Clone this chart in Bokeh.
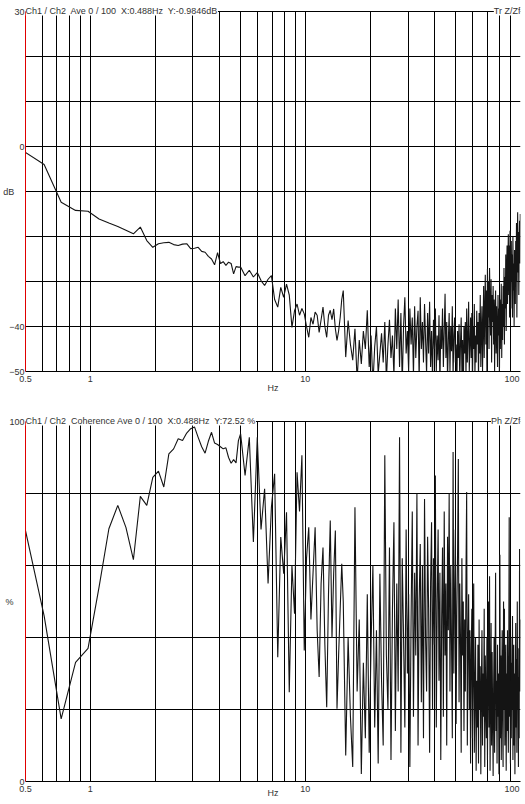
from bokeh.plotting import figure
from bokeh.models import Range1d, FixedTicker, Label
from bokeh.layouts import column
from bokeh.embed import file_html
from bokeh.resources import INLINE

FONT = "Liberation Sans"
TXT = "#333333"

# ---- frequency grid (Hz) ----
DF = 500 / 4096
freq_a = [DF * k for k in range(4, 41)]          # 0.488 .. 4.88 Hz
freq_b = [5.0 + 0.244 * k for k in range(41)]    # 5.0 .. 14.76 Hz
freq_c = [15.0 + 0.4 * k for k in range(213)]    # 15.0 .. 99.8 Hz
freq = freq_a + freq_b + freq_c

# ---- axis ticks / grid ----
x_ticks = [0.5, 1, 10, 100]
x_tick_labels = ["0.5", "1", "10", "100"]
x_grid = [0.6, 0.7, 0.8, 0.9, 1, 2, 3, 4, 5, 6, 7, 8, 9,
          10, 20, 30, 40, 50, 60, 70, 80, 90, 100]
db_limits = (-50, 30)
db_ticks = [-50, -40, 0, 30]
db_grid = [-50, -40, -30, -20, -10, 0, 10, 20, 30]
coh_limits = (0, 100)
coh_ticks = [0, 100]
coh_grid = [0, 20, 40, 60, 80, 100]

# ---- Transfer function (dB) ----
tr_db_a = [-1.0, -4.0, -12.4, -14.2, -14.4, -16.1, -17.0, -17.8, -18.6, -19.4,
           -17.9, -20.9, -22.4, -21.6, -21.4, -21.3, -21.8, -22.0, -21.7, -21.6,
           -22.7, -22.6, -22.4, -23.3, -23.5, -24.4, -25.0, -26.3, -23.6, -26.0,
           -25.6, -26.4, -25.7, -26.0, -28.3, -26.7, -26.8]
tr_db_b = [-26.8, -28.7, -27.5, -29.0, -28.0, -29.8, -30.9, -29.5, -28.7, -34.0,
           -35.7, -31.3, -33.5, -30.6, -33.0, -40.2, -36.5, -35.0, -37.5, -36.0,
           -37.2, -40.0, -42.4, -38.0, -39.5, -36.8, -37.5, -41.3, -38.5, -35.7,
           -40.0, -42.4, -37.5, -36.4, -38.5, -36.1, -40.5, -43.1, -41.0, -38.0,
           -34.0]
tr_db_c = [-32.0, -46.8, -38.7, -44.0, -47.5, -40.5, -52.0, -43.0, -48.3, -41.0,
           -45.0, -36.4, -49.0, -42.0, -53.0, -44.5, -40.0, -50.5, -46.0, -41.5,
           -48.0, -39.0, -52.0, -44.0, -38.5, -47.0, -42.0, -51.0, -36.0, -45.0,
           -34.0, -49.0, -37.0, -53.0, -40.0, -33.5, -46.0, -41.0, -50.0, -36.0,
           -44.0, -38.0, -51.0, -35.5, -47.0, -40.0, -36.5, -52.0, -33.5, -45.0,
           -39.0, -48.0, -35.0, -43.0, -50.5, -37.0, -46.0, -34.5, -49.0, -41.0,
           -52.0, -38.5, -45.0, -36.0, -50.0, -42.0, -47.5, -37.5, -53.0, -40.0,
           -45.0, -36.0, -49.0, -41.0, -32.7, -47.0, -39.0, -52.0, -43.0, -37.0,
           -50.0, -40.0, -45.5, -35.5, -51.0, -42.0, -38.0, -48.0, -44.0, -53.0,
           -41.0, -47.0, -39.5, -52.0, -44.0, -38.0, -50.0, -43.0, -55.0, -40.0,
           -46.0, -39.0, -51.0, -36.0, -48.0, -42.0, -34.5, -50.0, -44.0, -38.0,
           -47.0, -37.0, -53.0, -40.0, -45.0, -35.0, -51.0, -42.0, -48.0, -36.5,
           -44.0, -39.0, -52.0, -37.0, -46.0, -33.0, -49.0, -41.0, -35.5, -50.0,
           -40.0, -31.0, -47.0, -36.0, -28.5, -44.0, -32.0, -50.0, -27.2, -38.0,
           -30.0, -45.0, -27.0, -35.0, -42.0, -29.5, -48.0, -33.0, -39.0, -31.0,
           -44.0, -34.0, -50.0, -37.0, -32.0, -46.0, -35.5, -41.0, -49.0, -33.0,
           -42.0, -36.0, -52.0, -34.0, -45.0, -38.0, -30.5, -47.0, -35.0, -43.0,
           -31.0, -40.0, -27.0, -44.0, -29.0, -36.0, -24.0, -41.0, -30.0, -22.0,
           -35.0, -25.0, -19.5, -33.0, -22.0, -38.0, -18.7, -28.0, -36.0, -21.0,
           -30.0, -24.0, -38.0, -20.0, -32.0, -26.0, -40.0, -23.0, -29.0, -35.0,
           -21.0, -30.0, -17.0, -38.0, -24.0, -14.6, -28.0, -19.0, -33.0, -22.0,
           -16.5, -26.0, -15.0]
tr_db = tr_db_a + tr_db_b + tr_db_c

# ---- Coherence (%) ----
coh_a = [72.5, 46.0, 17.4, 33.1, 37.0, 54.0, 70.2, 76.7, 70.6, 61.6,
         79.2, 76.7, 84.5, 86.2, 81.8, 91.0, 92.4, 95.2, 94.7, 96.8,
         98.0, 98.5, 95.6, 93.0, 91.2, 94.5, 97.0, 94.0, 93.6, 93.0,
         92.4, 92.7, 90.0, 88.4, 89.4, 88.5, 94.7]
coh_b = [96.6, 85.0, 95.6, 66.5, 95.6, 70.0, 81.3, 55.0, 76.2, 85.5,
         34.5, 67.9, 57.7, 74.8, 24.8, 60.0, 46.6, 85.9, 75.0, 90.6,
         36.4, 62.0, 70.6, 45.0, 58.0, 70.6, 42.0, 29.0, 55.0, 65.0,
         38.0, 20.6, 52.0, 72.5, 40.0, 58.0, 69.7, 20.2, 35.0, 48.0,
         60.5]
coh_c = [50.0, 7.2, 40.0, 18.0, 4.0, 76.2, 25.0, 45.0, 2.1, 33.0,
         12.0, 52.0, 8.0, 38.0, 60.0, 15.0, 42.0, 5.0, 57.7, 28.0,
         10.0, 90.6, 35.0, 20.0, 65.0, 6.0, 48.0, 72.0, 14.0, 55.0,
         25.0, 95.6, 8.0, 62.0, 40.0, 15.0, 70.0, 30.0, 52.0, 4.0,
         45.0, 75.0, 18.0, 58.0, 35.0, 80.0, 10.0, 50.0, 66.0, 22.0,
         60.0, 12.0, 78.5, 40.0, 25.0, 68.0, 48.0, 8.0, 55.0, 72.0,
         20.0, 62.0, 38.0, 85.0, 15.0, 50.0, 70.0, 28.0, 58.0, 6.0,
         45.0, 65.0, 18.0, 75.0, 35.0, 55.0, 10.0, 68.0, 42.0, 80.0,
         25.0, 60.0, 38.0, 12.0, 91.5, 30.0, 52.0, 70.0, 16.0, 48.0,
         64.0, 89.6, 22.0, 55.0, 40.0, 8.0, 62.0, 35.0, 50.0, 14.0,
         45.0, 25.0, 58.0, 80.4, 10.0, 38.0, 52.0, 20.0, 42.0, 5.0,
         35.0, 48.0, 12.0, 30.0, 55.0, 8.0, 25.0, 40.0, 3.0, 28.0,
         15.0, 38.0, 5.0, 45.0, 20.0, 32.0, 2.0, 26.0, 42.0, 10.0,
         30.0, 18.0, 48.0, 4.0, 35.0, 22.0, 12.0, 40.0, 6.0, 28.0,
         50.0, 15.0, 57.0, 3.0, 24.0, 44.0, 10.0, 36.0, 20.0, 1.5,
         26.0, 40.0, 8.0, 33.0, 58.0, 14.0, 28.0, 5.0, 38.0, 18.0,
         30.0, 2.0, 22.0, 63.0, 12.0, 35.0, 6.0, 27.0, 42.0, 16.0,
         4.0, 50.0, 20.0, 48.0, 10.0, 25.0, 38.0, 3.0, 30.0, 14.0,
         42.0, 22.0, 8.0, 35.0, 73.4, 18.0, 28.0, 5.0, 40.0, 12.0,
         33.0, 20.0, 46.0, 6.0, 26.0, 38.0, 10.0, 30.0, 2.0, 24.0,
         44.0, 15.0, 34.0, 8.0, 50.0, 20.0, 29.0, 4.0, 37.0, 12.0,
         64.6, 25.0, 45.0]
coh = coh_a + coh_b + coh_c

title_top = "Ch1 / Ch2\u00a0 Ave 0 / 100\u00a0 X:0.488Hz\u00a0 Y:-0.9846dB"
right_top = "Tr Z/Zf"
title_bot = "Ch1 / Ch2\u00a0 Coherence Ave 0 / 100\u00a0 X:0.488Hz\u00a0 Y:72.52 %"
right_bot = "Ph Z/Zf"

PLOT_H = 360      # pixel height of the data area
HEAD_H = 11       # pixel strip above the data area that holds the header texts


def make_panel(limits, yticks, ygrid, ylabel, ylab_standoff, xlab_standoff,
               t_left, t_right, bottom_border, yvals):
    lo, hi = limits
    head = HEAD_H * (hi - lo) / PLOT_H
    p = figure(frame_width=495, frame_height=PLOT_H + HEAD_H, x_axis_type="log",
               x_range=Range1d(0.5, 100), y_range=Range1d(lo, hi + head),
               output_backend="svg", toolbar_location=None,
               min_border_left=25, min_border_right=4,
               min_border_top=0, min_border_bottom=bottom_border)
    p.outline_line_color = None
    p.background_fill_color = "white"
    p.border_fill_color = "white"

    p.xgrid.ticker = FixedTicker(ticks=x_grid)
    p.ygrid.ticker = FixedTicker(ticks=ygrid)
    if "cross_bounds" in p.xgrid[0].properties():
        p.xgrid[0].cross_bounds = (lo, hi)
    p.grid.grid_line_color = "black"
    p.grid.grid_line_width = 1
    p.grid.grid_line_alpha = 1.0

    xa = p.xaxis[0]
    xa.ticker = FixedTicker(ticks=x_ticks, minor_ticks=[])
    ov = {}
    for t, s in zip(x_ticks, x_tick_labels):
        key = int(t) if float(t).is_integer() else t
        ov[key] = s + ("\u00a0\u00a0" if s == "100" else "")
    xa.major_label_overrides = ov
    xa.axis_line_color = "black"
    xa.major_tick_out = 0
    xa.major_tick_in = 0
    xa.minor_tick_out = 0
    xa.minor_tick_in = 0
    xa.major_label_standoff = 2
    xa.major_label_text_font = FONT
    xa.major_label_text_font_size = "9px"
    xa.major_label_text_color = TXT
    xa.axis_label = "Hz"
    xa.axis_label_text_font = FONT
    xa.axis_label_text_font_size = "9px"
    xa.axis_label_text_font_style = "normal"
    xa.axis_label_text_color = TXT
    xa.axis_label_standoff = xlab_standoff

    ya = p.yaxis[0]
    ya.bounds = (lo, hi)
    ya.ticker = FixedTicker(ticks=yticks, minor_ticks=[])
    ya.axis_line_color = "#e00000"
    ya.axis_line_width = 1
    ya.major_tick_out = 0
    ya.major_tick_in = 0
    ya.minor_tick_out = 0
    ya.minor_tick_in = 0
    ya.major_label_standoff = 1
    ya.major_label_text_font = FONT
    ya.major_label_text_font_size = "9px"
    ya.major_label_text_color = TXT
    # leading empty line shifts the label to the middle of the data area
    ya.axis_label = "\n" + ylabel
    ya.axis_label_orientation = "horizontal"
    ya.axis_label_text_font = FONT
    ya.axis_label_text_font_size = "9px"
    ya.axis_label_text_font_style = "normal"
    ya.axis_label_text_color = TXT
    ya.axis_label_standoff = ylab_standoff

    p.line(freq, yvals, line_color="#141414", line_width=1.1)

    for xpos, txt, align in ((0.5, t_left, "left"), (100, t_right, "right")):
        p.add_layout(Label(x=xpos, y=hi, text=txt, text_font=FONT,
                           text_font_size="9px", text_color=TXT,
                           text_align=align, text_baseline="alphabetic",
                           y_offset=1, background_fill_color="white",
                           border_line_color=None))
    return p


p1 = make_panel(db_limits, db_ticks, db_grid, "dB", -8, -4,
                title_top, right_top, 39, tr_db)
p2 = make_panel(coh_limits, coh_ticks, coh_grid, "%", -7, -9,
                title_bot, right_bot, 0, coh)

layout = column(p1, p2, spacing=0)
open("out.html", "w").write(file_html(layout, INLINE))
